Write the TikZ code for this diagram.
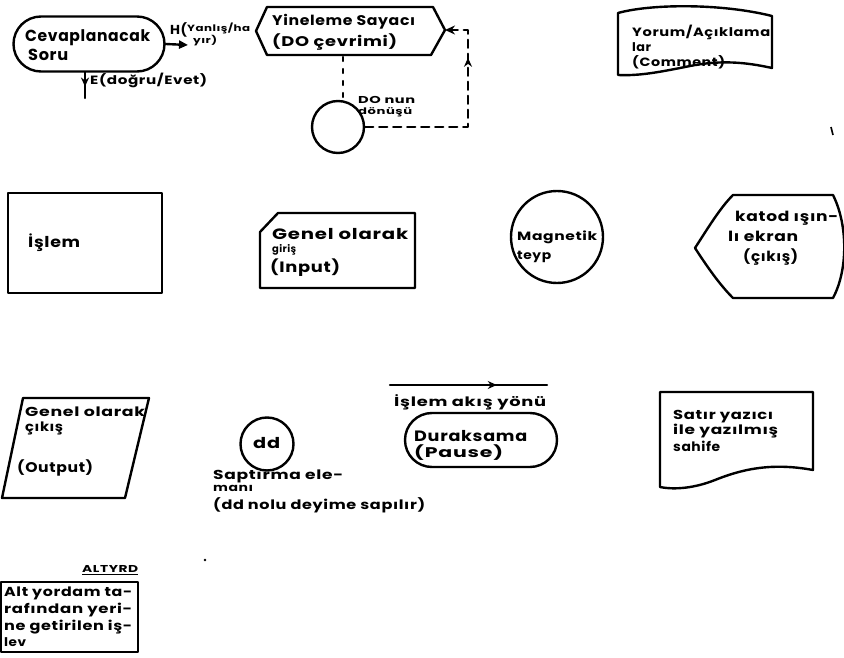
\documentclass[tikz,border=0pt]{standalone}
\usepackage{fontspec}
\newfontfamily\handfont{Poppins}[LetterSpace=4]
\usetikzlibrary{shapes.misc,arrows.meta,decorations.markings}
% hand lettering: size / baseline skip
\newcommand\hw[2]{\handfont\bfseries\fontsize{#1}{#2}\selectfont}
% stretch a line of lettering to a given width, keeping its height
\newcommand\fw[2]{\resizebox{#1pt}{\height}{#2}}
% one line of lettering: name, x, y, size, width, text
\newcommand\htx[6]{\node[txt, anchor=west, font={\hw{#4}{#4}}] (#1) at (#2,#3) {\fw{#5}{#6}};}
\tikzset{
  ink/.style={line width=2.4pt, line join=round, line cap=round},
  txt/.style={inner sep=0pt, align=left},
  term/.style={ink, draw, rounded rectangle, inner sep=0pt},
  dashes/.style={dash pattern=on 8pt off 6pt},
  midarrow/.style={postaction={decorate}, decoration={markings,
      mark=at position #1 with {\arrow{Stealth[length=9pt,width=8pt]}}}},
  tip/.style={-{Stealth[length=10pt,width=9pt]}}
}
\begin{document}
\begin{tikzpicture}[x=1pt,y=-1pt]
\useasboundingbox (0,0) rectangle (844,658);
\clip (0,0) rectangle (844,658);

% ---------- decision terminal with yes/no branches
\node[term, minimum width=151pt, minimum height=55pt] (soru) at (89,44) {};
\htx{soru1}{25}{38}{16}{125}{Cevaplanacak}
\htx{soru2}{28}{55}{16}{40}{Soru}
\coordinate (hEnd) at (188,45);
\draw[ink, -{Triangle[length=9pt,width=8pt]}] (soru.east) -- (hEnd);
\htx{hLab}{170}{30}{13}{17}{H(}
\htx{hLab1}{187}{28}{9}{63}{Yanlış/ha}
\htx{hLab2}{193}{41}{9}{24}{yır)}
\coordinate (eTop) at (85,72);
\coordinate (eEnd) at (85,98);
\draw[ink, midarrow=0.56] (eTop) -- (eEnd);
\htx{eLab}{90}{80}{12}{117}{E(doğru/Evet)}

% ---------- loop counter (hexagon) and loop return
\draw[ink] (256,31) -- (267,7) -- (433,7) -- (445,30) -- (431,55) -- (267,55) -- cycle;
\coordinate (hexR) at (445,30);
\coordinate (hexB) at (343,57);
\htx{hex1}{272}{22}{14}{143}{Yineleme Sayacı}
\htx{hex2}{272}{42}{14}{125}{(DO çevrimi)}
\node[ink, draw, circle, minimum size=52pt, inner sep=0pt] (don) at (338,127) {};
\draw[ink, dash pattern=on 4pt off 8pt] (hexB) -- (hexB |- don.north);
\coordinate (loopA) at (468,127);
\coordinate (loopB) at (468,30);
\draw[ink, dashes, tip, midarrow=172pt] (don.east) -- (loopA) -- (loopB) -- (hexR);
\htx{don1}{358}{100}{10}{57}{DO nun}
\htx{don2}{358}{112}{9}{54}{dönüşü}

% ---------- comment flag
\draw[ink] (618,13) .. controls (650,4) and (720,3) .. (772,16)
  -- (772,68) .. controls (745,62) and (720,60) .. (690,66)
  .. controls (660,72) and (640,76) .. (618,75) -- cycle;
\htx{yor1}{632}{32}{12}{138}{Yorum/Açıklama}
\htx{yor2}{632}{47}{12}{19}{lar}
\htx{yor3}{632}{62}{12}{93}{(Comment)}

% ---------- process box
\node[ink, draw, minimum width=154pt, minimum height=100pt, inner sep=0pt] (islem) at (85,243) {};
\htx{isl}{28}{243}{15}{52}{İşlem}

% ---------- general input card
\draw[ink] (278,213) -- (415,213) -- (415,288) -- (260,288) -- (260,232) -- cycle;
\htx{gir1}{272}{234}{15}{136}{Genel olarak}
\htx{gir2}{272}{250}{10}{24}{giriş}
\htx{gir3}{270}{268}{15}{70}{(Input)}

% ---------- magnetic tape
\node[ink, draw, circle, minimum size=92pt, inner sep=0pt] (teyp) at (557,237) {};
\htx{mag1}{517}{237}{12}{80}{Magnetik}
\htx{mag2}{517}{257}{12}{34}{teyp}

% ---------- cathode ray screen
\draw[ink] (695,248) .. controls (708,228) and (720,208) .. (733,195) -- (833,195)
  .. controls (848,225) and (848,270) .. (833,298) -- (733,298)
  .. controls (720,285) and (708,268) .. (695,248) -- cycle;
\htx{crt1}{735}{218}{14}{103}{katod ışın-}
\htx{crt2}{728}{236}{14}{70}{lı ekran}
\htx{crt3}{743}{257}{14}{55}{(çıkış)}

% ---------- general output parallelogram
\draw[ink] (23,398) -- (149,398) -- (125,498) -- (2,498) -- cycle;
\htx{out1}{25}{412}{13}{120}{Genel olarak}
\htx{out2}{25}{428}{13}{38}{çıkış}
\htx{out3}{17}{468}{14}{76}{(Output)}

% ---------- connector circle
\node[ink, draw, circle, minimum size=53pt, inner sep=0pt] (dd) at (267,444) {};
\htx{ddT}{253}{443}{15}{27}{dd}
\htx{sap1}{213}{476}{13}{130}{Saptırma ele-}
\htx{sap2}{213}{488}{11}{40}{manı}
\htx{sap3}{213}{505}{13}{212}{(dd nolu deyime sapılır)}

% ---------- flow direction
\coordinate (flowA) at (390,385);
\coordinate (flowB) at (547,385);
\draw[ink, midarrow=0.68] (flowA) -- (flowB);
\htx{flowT}{394}{402}{13}{152}{İşlem akış yönü}

% ---------- pause terminal
\node[term, minimum width=152pt, minimum height=54pt] (dur) at (481,440) {};
\htx{dur1}{414}{436}{15}{113}{Duraksama}
\htx{dur2}{414}{453}{14}{89}{(Pause)}

% ---------- printed page document
\draw[ink] (660,392) -- (813,392) -- (813,470)
  .. controls (770,462) and (740,470) .. (715,480)
  .. controls (695,488) and (675,490) .. (660,487) -- cycle;
\htx{say1}{673}{417}{13}{100}{Satır yazıcı}
\htx{say2}{673}{431}{13}{105}{ile yazılmış}
\htx{say3}{673}{446}{13}{47}{sahife}

% ---------- subroutine
\node[txt, anchor=west, font={\hw{10}{10}}] (alt0) at (82,570) {\underline{\fw{56}{ALTYRD}}};
\draw[ink] (1,582) -- (138,582) -- (138,652) -- (1,652) -- cycle;
\htx{alt1}{4}{593}{13}{128}{Alt yordam ta-}
\htx{alt2}{4}{610}{13}{128}{rafından yeri-}
\htx{alt3}{4}{627}{13}{128}{ne getirilen iş-}
\htx{alt4}{4}{642}{12}{22}{lev}

% ---------- stray pen marks
\draw[line width=1.6pt] (831,127) -- (833,135);
\fill (205,560) circle (1.3pt);
\end{tikzpicture}
\end{document}
